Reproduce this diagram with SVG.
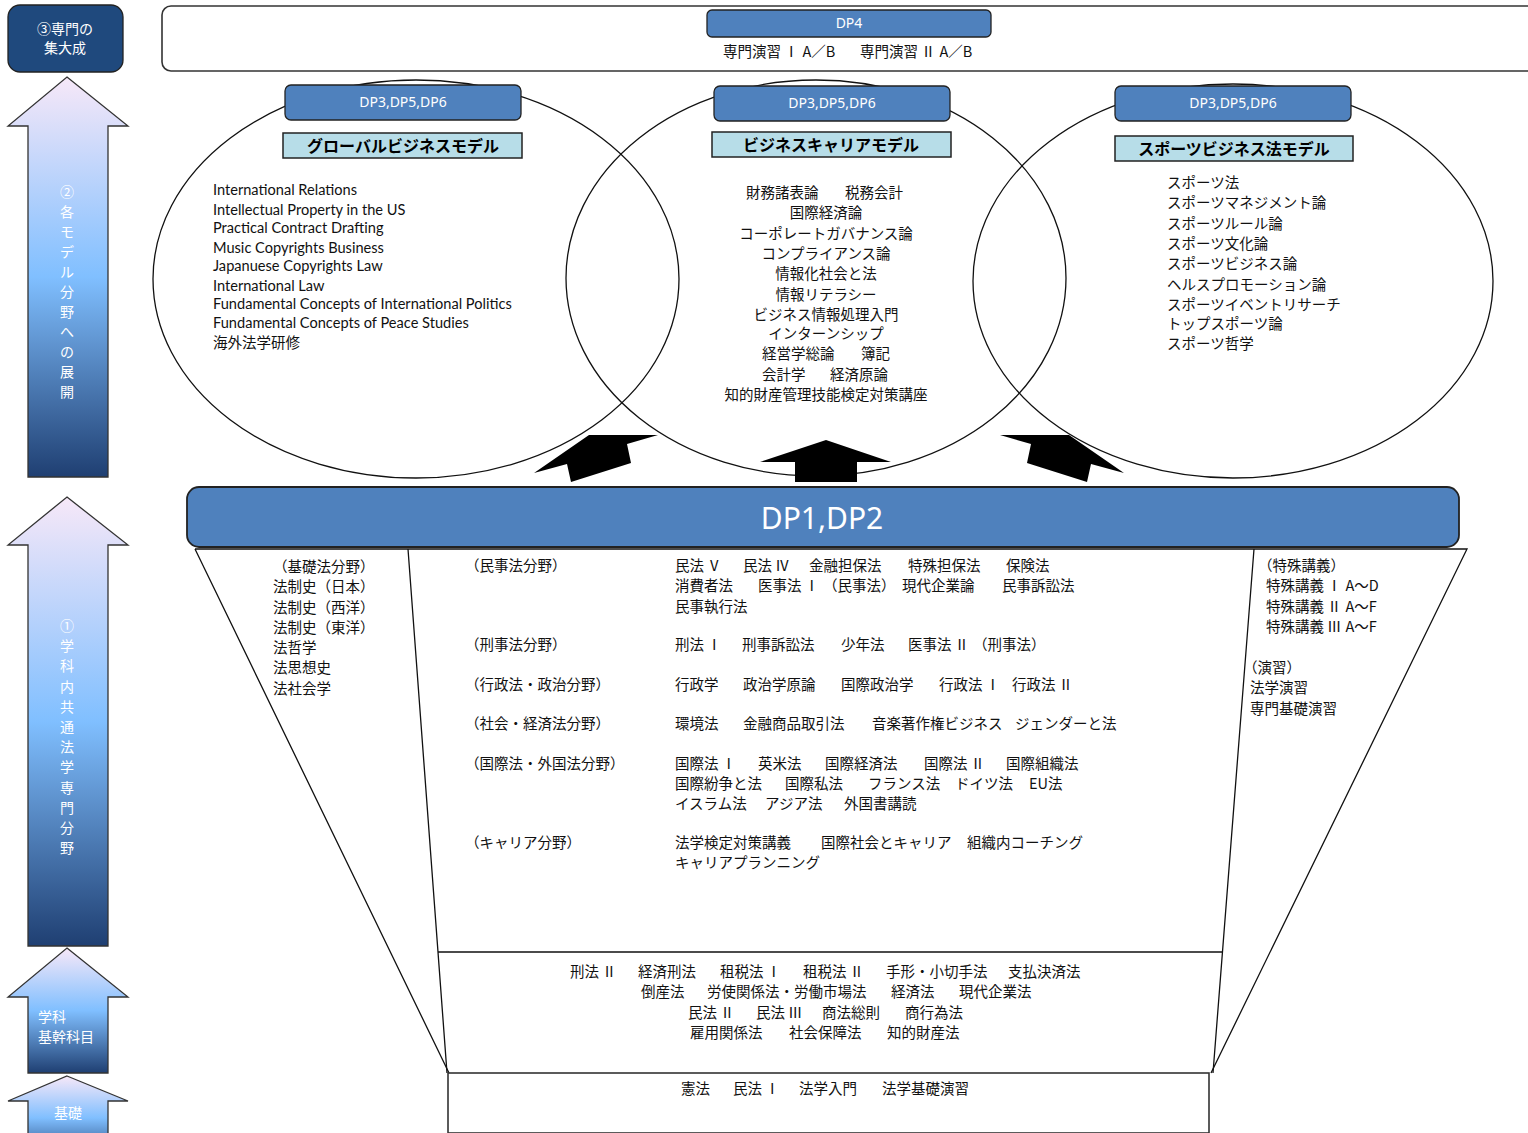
<svg xmlns="http://www.w3.org/2000/svg" width="1528" height="1133" viewBox="0 0 1528 1133">
<defs>
<linearGradient id="ga" x1="0" y1="0" x2="0" y2="1">
<stop offset="0" stop-color="#f7e8f8"/>
<stop offset="0.5" stop-color="#80bfff"/>
<stop offset="1" stop-color="#1f3f72"/>
</linearGradient>
<style>
.jp{font-family:"Noto Sans CJK JP","Noto Sans",sans-serif;font-size:14.5px;fill:#111}
.fw{letter-spacing:4px}
.en{font-family:"Lato","Liberation Sans",sans-serif;font-size:14.6px;fill:#111}
.wt{font-family:"Noto Sans CJK JP","Noto Sans",sans-serif;font-size:14px;fill:#fff}
.dp{font-family:"Noto Sans","Noto Sans CJK JP",sans-serif;font-size:14px;fill:#fff;text-anchor:middle}
.hd{font-family:"Noto Sans CJK JP",sans-serif;font-size:16px;font-weight:700;fill:#000;text-anchor:middle}
.dpbox{fill:#4f81bd;stroke:#222;stroke-width:1.3}
.hbox{fill:#b7dde8;stroke:#222;stroke-width:1.5}
.ell{fill:none;stroke:#111;stroke-width:1.3}
.arr{fill:url(#ga);stroke:#333;stroke-width:1.3}
.ln{fill:none;stroke:#111;stroke-width:1.3}
.blk{fill:#000}
.c{text-anchor:middle}
</style>
</defs>

<g id="left-arrows">
<g id="box-shumon">
<rect x="8" y="5" width="115" height="67" rx="12" fill="#1f497d" stroke="#222" stroke-width="1.3"/>
<text class="wt c" x="65" y="34">③専門の</text>
<text class="wt c" x="65" y="53">集大成</text>
</g>
<g id="arrow-model">
<path class="arr" d="M67,77 L128,126 L108,126 L108,477 L28,477 L28,126 L8,126 Z"/>
<text class="wt c" x="67" y="197"><tspan x="67">②</tspan><tspan x="67" dy="20">各</tspan><tspan x="67" dy="20">モ</tspan><tspan x="67" dy="20">デ</tspan><tspan x="67" dy="20">ル</tspan><tspan x="67" dy="20">分</tspan><tspan x="67" dy="20">野</tspan><tspan x="67" dy="20">へ</tspan><tspan x="67" dy="20">の</tspan><tspan x="67" dy="20">展</tspan><tspan x="67" dy="20">開</tspan></text>
</g>
<g id="arrow-common">
<path class="arr" d="M67,497 L128,545 L108,545 L108,946 L28,946 L28,545 L8,545 Z"/>
<text class="wt c" x="67" y="631"><tspan x="67">①</tspan><tspan x="67" dy="20.2">学</tspan><tspan x="67" dy="20.2">科</tspan><tspan x="67" dy="20.2">内</tspan><tspan x="67" dy="20.2">共</tspan><tspan x="67" dy="20.2">通</tspan><tspan x="67" dy="20.2">法</tspan><tspan x="67" dy="20.2">学</tspan><tspan x="67" dy="20.2">専</tspan><tspan x="67" dy="20.2">門</tspan><tspan x="67" dy="20.2">分</tspan><tspan x="67" dy="20.2">野</tspan></text>
</g>
<g id="arrow-kikan">
<path class="arr" d="M67,948 L128,997 L108,997 L108,1073 L28,1073 L28,997 L8,997 Z"/>
<text class="wt" x="38" y="1022">学科</text>
<text class="wt" x="38" y="1042">基幹科目</text>
</g>
<g id="arrow-kiso">
<path class="arr" d="M67,1076 L128,1101 L108,1101 L108,1160 L28,1160 L28,1101 L8,1101 Z"/>
<text class="wt c" x="68" y="1118">基礎</text>
</g>
</g>

<g id="dp4">
<rect x="162" y="6" width="1400" height="65" rx="9" fill="#fff" stroke="#333" stroke-width="1.6"/>
<rect class="dpbox" x="707" y="10" width="284" height="27" rx="5"/>
<text class="dp" x="849" y="28">DP4</text>
<text class="jp" y="57"><tspan x="723">専門演習<tspan class="fw" dx="3">Ⅰ</tspan>A／B</tspan><tspan x="860">専門演習<tspan class="fw" dx="3">Ⅱ</tspan>A／B</tspan></text>
</g>

<g id="models">
<ellipse class="ell" cx="416" cy="279" rx="263" ry="199"/>
<ellipse class="ell" cx="816" cy="278" rx="250" ry="198"/>
<ellipse class="ell" cx="1233" cy="281" rx="260" ry="197"/>

<g id="model-global">
<rect class="dpbox" x="285" y="85" width="236" height="35" rx="6"/>
<text class="dp" x="403" y="107">DP3,DP5,DP6</text>
<rect class="hbox" x="283" y="133" width="239" height="25"/>
<text class="hd" x="403" y="152">グローバルビジネスモデル</text>
<text class="en" x="213" y="195">International Relations</text>
<text class="en" x="213" y="215">Intellectual Property in the US</text>
<text class="en" x="213" y="233">Practical Contract Drafting</text>
<text class="en" x="213" y="253">Music Copyrights Business</text>
<text class="en" x="213" y="271">Japanuese Copyrights Law</text>
<text class="en" x="213" y="291">International Law</text>
<text class="en" x="213" y="309">Fundamental Concepts of International Politics</text>
<text class="en" x="213" y="328">Fundamental Concepts of Peace Studies</text>
<text class="jp" x="213" y="348">海外法学研修</text>
</g>

<g id="model-career">
<rect class="dpbox" x="714" y="86" width="236" height="35" rx="6"/>
<text class="dp" x="832" y="108">DP3,DP5,DP6</text>
<rect class="hbox" x="712" y="132" width="239" height="25"/>
<text class="hd" x="831" y="151">ビジネスキャリアモデル</text>
<text class="jp" y="198"><tspan x="746">財務諸表論</tspan><tspan x="845">税務会計</tspan></text>
<text class="jp c" x="826" y="218">国際経済論</text>
<text class="jp c" x="826" y="239">コーポレートガバナンス論</text>
<text class="jp c" x="826" y="259">コンプライアンス論</text>
<text class="jp c" x="826" y="279">情報化社会と法</text>
<text class="jp c" x="826" y="300">情報リテラシー</text>
<text class="jp c" x="826" y="320">ビジネス情報処理入門</text>
<text class="jp c" x="826" y="339">インターンシップ</text>
<text class="jp" y="359"><tspan x="762">経営学総論</tspan><tspan x="861">簿記</tspan></text>
<text class="jp" y="380"><tspan x="762">会計学</tspan><tspan x="830">経済原論</tspan></text>
<text class="jp c" x="826" y="400">知的財産管理技能検定対策講座</text>
</g>

<g id="model-sports">
<rect class="dpbox" x="1115" y="86" width="236" height="35" rx="6"/>
<text class="dp" x="1233" y="108">DP3,DP5,DP6</text>
<rect class="hbox" x="1115" y="136" width="238" height="25"/>
<text class="hd" x="1234" y="155">スポーツビジネス法モデル</text>
<text class="jp" x="1167" y="188">スポーツ法</text>
<text class="jp" x="1167" y="208">スポーツマネジメント論</text>
<text class="jp" x="1167" y="229">スポーツルール論</text>
<text class="jp" x="1167" y="249">スポーツ文化論</text>
<text class="jp" x="1167" y="269">スポーツビジネス論</text>
<text class="jp" x="1167" y="290">ヘルスプロモーション論</text>
<text class="jp" x="1167" y="310">スポーツイベントリサーチ</text>
<text class="jp" x="1167" y="329">トップスポーツ論</text>
<text class="jp" x="1167" y="349">スポーツ哲学</text>
</g>
</g>

<g id="connectors">
<polygon class="blk" points="534,473 589,435 658,435 627,444 631,463 571,482 567,464"/>
<polygon class="blk" points="826,440 891,462 857,462 857,482 795,482 795,462 760,462"/>
<polygon class="blk" points="1124,473 1069,435 1000,435 1031,444 1027,463 1087,482 1091,464"/>
</g>

<g id="dp12">
<rect x="187" y="487" width="1272" height="60" rx="12" fill="#4f81bd" stroke="#222" stroke-width="1.8"/>
<text x="822" y="529" text-anchor="middle" font-family="Noto Sans, sans-serif" font-size="30" fill="#fff">DP1,DP2</text>
</g>

<g id="common">
<path class="ln" d="M195,549 L1467,549 L1211,1073 M195,549 L449,1073"/>
<path class="ln" d="M408,549 L447,1073 M1254,549 L1213,1073 M438,952 L1222,952"/>
<g id="kiso-field">
<text class="jp" x="273" y="572">（基礎法分野）</text>
<text class="jp" x="273" y="592">法制史（日本）</text>
<text class="jp" x="273" y="613">法制史（西洋）</text>
<text class="jp" x="273" y="633">法制史（東洋）</text>
<text class="jp" x="273" y="653">法哲学</text>
<text class="jp" x="273" y="673">法思想史</text>
<text class="jp" x="273" y="694">法社会学</text>
</g>
<g id="main-field">
<text class="jp" x="465" y="571">（民事法分野）</text>
<text class="jp" x="465" y="650">（刑事法分野）</text>
<text class="jp" x="465" y="690">（行政法・政治分野）</text>
<text class="jp" x="465" y="729">（社会・経済法分野）</text>
<text class="jp" x="465" y="769">（国際法・外国法分野）</text>
<text class="jp" x="465" y="848">（キャリア分野）</text>
<text class="jp" y="571"><tspan x="675">民法<tspan class="fw" dx="3">Ⅴ</tspan></tspan><tspan x="743">民法<tspan class="fw" dx="3">Ⅳ</tspan></tspan><tspan x="809">金融担保法</tspan><tspan x="908">特殊担保法</tspan><tspan x="1006">保険法</tspan></text>
<text class="jp" y="591"><tspan x="675">消費者法</tspan><tspan x="758">医事法<tspan class="fw" dx="3">Ⅰ</tspan>（民事法）</tspan><tspan x="902">現代企業論</tspan><tspan x="1002">民事訴訟法</tspan></text>
<text class="jp" x="675" y="612">民事執行法</text>
<text class="jp" y="650"><tspan x="675">刑法<tspan class="fw" dx="3">Ⅰ</tspan></tspan><tspan x="742">刑事訴訟法</tspan><tspan x="841">少年法</tspan><tspan x="908">医事法<tspan class="fw" dx="3">Ⅱ</tspan>（刑事法）</tspan></text>
<text class="jp" y="690"><tspan x="675">行政学</tspan><tspan x="743">政治学原論</tspan><tspan x="841">国際政治学</tspan><tspan x="939">行政法<tspan class="fw" dx="3">Ⅰ</tspan></tspan><tspan x="1012">行政法<tspan class="fw" dx="3">Ⅱ</tspan></tspan></text>
<text class="jp" y="729"><tspan x="675">環境法</tspan><tspan x="743">金融商品取引法</tspan><tspan x="872">音楽著作権ビジネス</tspan><tspan x="1015">ジェンダーと法</tspan></text>
<text class="jp" y="769"><tspan x="675">国際法<tspan class="fw" dx="3">Ⅰ</tspan></tspan><tspan x="758">英米法</tspan><tspan x="825">国際経済法</tspan><tspan x="924">国際法<tspan class="fw" dx="3">Ⅱ</tspan></tspan><tspan x="1006">国際組織法</tspan></text>
<text class="jp" y="789"><tspan x="675">国際紛争と法</tspan><tspan x="785">国際私法</tspan><tspan x="868">フランス法</tspan><tspan x="955">ドイツ法</tspan><tspan x="1029">EU法</tspan></text>
<text class="jp" y="809"><tspan x="675">イスラム法</tspan><tspan x="765">アジア法</tspan><tspan x="844">外国書講読</tspan></text>
<text class="jp" y="848"><tspan x="675">法学検定対策講義</tspan><tspan x="821">国際社会とキャリア</tspan><tspan x="967">組織内コーチング</tspan></text>
<text class="jp" x="675" y="868">キャリアプランニング</text>
</g>
<g id="special-field">
<text class="jp" x="1258" y="571">（特殊講義）</text>
<text class="jp" x="1266" y="591">特殊講義<tspan class="fw" dx="3">Ⅰ</tspan>A～D</text>
<text class="jp" x="1266" y="612">特殊講義<tspan class="fw" dx="3">Ⅱ</tspan>A～F</text>
<text class="jp" x="1266" y="632">特殊講義<tspan class="fw" dx="3">Ⅲ</tspan>A～F</text>
<text class="jp" x="1243" y="673">（演習）</text>
<text class="jp" x="1250" y="693">法学演習</text>
<text class="jp" x="1250" y="714">専門基礎演習</text>
</g>
<g id="kikan-field">
<text class="jp" y="977"><tspan x="570">刑法<tspan class="fw" dx="3">Ⅱ</tspan></tspan><tspan x="638">経済刑法</tspan><tspan x="720">租税法<tspan class="fw" dx="3">Ⅰ</tspan></tspan><tspan x="803">租税法<tspan class="fw" dx="3">Ⅱ</tspan></tspan><tspan x="886">手形・小切手法</tspan><tspan x="1008">支払決済法</tspan></text>
<text class="jp" y="997"><tspan x="641">倒産法</tspan><tspan x="707">労使関係法・労働市場法</tspan><tspan x="891">経済法</tspan><tspan x="959">現代企業法</tspan></text>
<text class="jp" y="1018"><tspan x="688">民法<tspan class="fw" dx="3">Ⅱ</tspan></tspan><tspan x="756">民法<tspan class="fw" dx="3">Ⅲ</tspan></tspan><tspan x="822">商法総則</tspan><tspan x="905">商行為法</tspan></text>
<text class="jp" y="1038"><tspan x="690">雇用関係法</tspan><tspan x="789">社会保障法</tspan><tspan x="887">知的財産法</tspan></text>
</g>
</g>

<g id="kiso">
<rect x="448" y="1073" width="761" height="60" fill="#fff" stroke="#333" stroke-width="1.6"/>
<text class="jp" y="1094"><tspan x="681">憲法</tspan><tspan x="733">民法<tspan class="fw" dx="3">Ⅰ</tspan></tspan><tspan x="799">法学入門</tspan><tspan x="882">法学基礎演習</tspan></text>
</g>
</svg>
